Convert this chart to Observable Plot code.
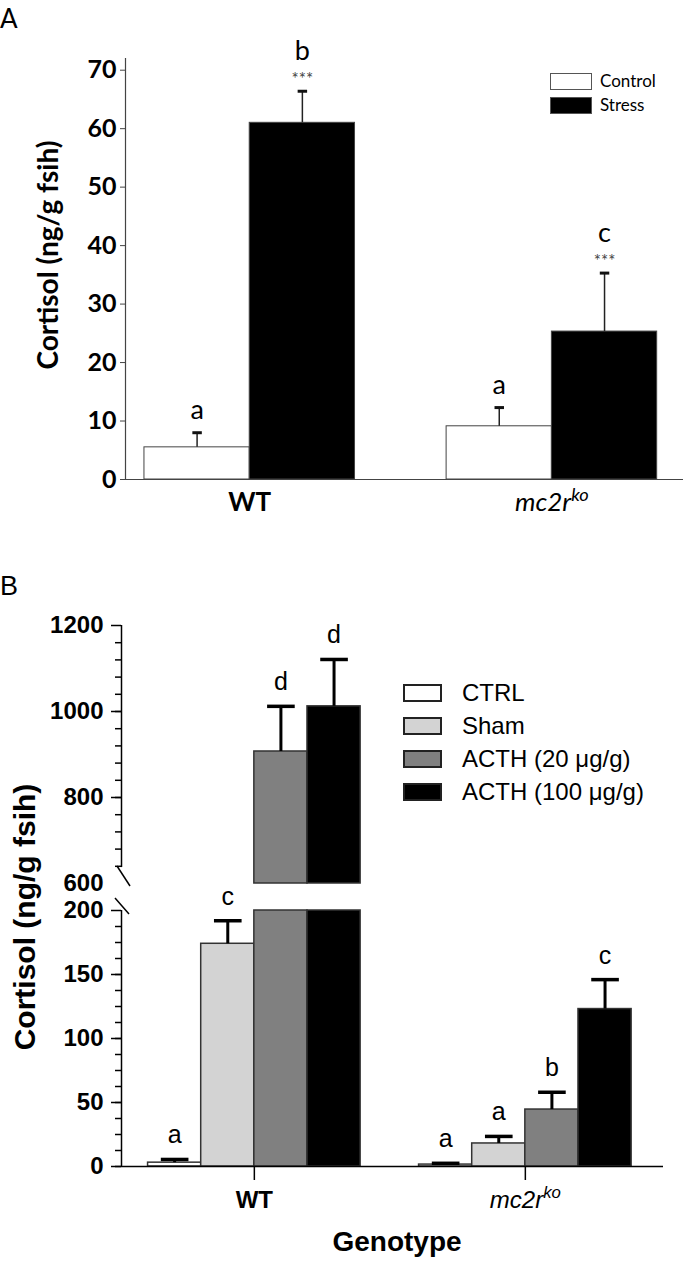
<!DOCTYPE html>
<html><head><meta charset="utf-8">
<script src="https://cdn.jsdelivr.net/npm/d3@7"></script>
<script src="https://cdn.jsdelivr.net/npm/@observablehq/plot@0.6"></script>
<style>
body{margin:0;background:#fff}
#root{position:relative;width:683px;height:1267px;overflow:hidden;background:#fff}
#root svg{position:absolute;left:0}
.abs{position:absolute;white-space:nowrap}
.rot{position:absolute;text-align:center;transform:rotate(-90deg);white-space:nowrap}
.sw{position:absolute;box-sizing:border-box}
</style>
</head><body><div id="root"></div>
<script>
// ---------- Data ----------
const genotypes = ["WT", "mc2rko"];
const treatmentsA = ["Control", "Stress"];
const meanA = [[5.5, 61.0], [9.1, 25.3]];
const errA = [[8.0, 66.4], [12.3, 35.3]];
const lettersA = [["a", "b"], ["a", "c"]];
const starsA = [["", "***"], ["", "***"]];
const yTicksA = [0, 10, 20, 30, 40, 50, 60, 70];

const treatmentsB = ["CTRL", "Sham", "ACTH (20 \u03bcg/g)", "ACTH (100 \u03bcg/g)"];
const meanB = [[3, 174, 907, 1012], [1.5, 18, 44.5, 123]];
const errB = [[5.5, 192, 1012, 1121], [2.5, 23.5, 58, 146]];
const lettersB = [["a", "c", "d", "d"], ["a", "a", "b", "c"]];
const yTicksBLow = [0, 50, 100, 150, 200];
const yTicksBHigh = [600, 800, 1000, 1200];

// ---------- Layout ----------
const fillA = ["white", "black"];
const fillB = ["white", "#d3d3d3", "#808080", "black"];
const startA = [0.18, 3.05], startB = [0.5, 5.6];
const capA = 0.045, capB = 0.26;

const rowsA = [];
genotypes.forEach((g, gi) => treatmentsA.forEach((t, ti) => rowsA.push({
  g, t, ti, x1: startA[gi] + ti, x2: startA[gi] + ti + 1, xc: startA[gi] + ti + 0.5,
  mean: meanA[gi][ti], err: errA[gi][ti], letter: lettersA[gi][ti], star: starsA[gi][ti]})));
const rowsB = [];
genotypes.forEach((g, gi) => treatmentsB.forEach((t, ti) => rowsB.push({
  g, t, ti, x1: startB[gi] + ti, x2: startB[gi] + ti + 1, xc: startB[gi] + ti + 0.5,
  mean: meanB[gi][ti], err: errB[gi][ti], letter: lettersB[gi][ti]})));
const centersA = startA.map(s => s + 1);
const centersB = startB.map(s => s + 2);

const root = document.getElementById("root");
const AR = "Liberation Sans, Arial, sans-serif";
const fmt = d3.format("d");

// ---------- Panel A ----------
const plotA = Plot.plot({
  width: 683, height: 530, marginLeft: 125, marginRight: 0, marginTop: 58, marginBottom: 51,
  style: {background: "transparent", overflow: "visible"},
  x: {domain: [0, 5.3], axis: null}, y: {domain: [0, 72], axis: null},
  marks: [
    Plot.rectY(rowsA, {x1: "x1", x2: "x2", y1: 0, y2: "mean", fill: d => fillA[d.ti], stroke: "#444", strokeWidth: 1}),
    Plot.ruleX(rowsA, {x: "xc", y1: "mean", y2: "err", stroke: "#222", strokeWidth: 1.5}),
    Plot.link(rowsA, {x1: d => d.xc - capA, x2: d => d.xc + capA, y1: "err", y2: "err", stroke: "#111", strokeWidth: 3}),
    Plot.text(rowsA.filter(d => !d.star), {x: "xc", y: "err", text: "letter", dy: -22, fontSize: 27, fontFamily: "Lato"}),
    Plot.text(rowsA.filter(d => d.star), {x: "xc", y: "err", text: "letter", dy: -40, fontSize: 27, fontFamily: "Lato"}),
    Plot.text(rowsA, {x: "xc", y: "err", text: "star", dy: -12, fontSize: 17, fill: "#444", fontFamily: "Lato"}),
    Plot.ruleY([0], {stroke: "#444", strokeWidth: 1.2}),
    Plot.ruleX([0], {y1: 0, y2: 72, stroke: "#444", strokeWidth: 1.2}),
    Plot.axisY({ticks: yTicksA, tickSize: 5, tickPadding: 4, fontSize: 25, fontWeight: "bold", fontFamily: "Lato", label: null, stroke: "#444"}),
    Plot.axisX({ticks: centersA, tickSize: 0, tickPadding: 13, fontSize: 26, fontFamily: "Lato", label: null,
      tickFormat: d => genotypes[centersA.indexOf(d)]})
  ]
});
plotA.style.top = "0px";
root.appendChild(plotA);

// ---------- Panel B (upper, broken axis) ----------
const plotBH = Plot.plot({
  width: 683, height: 290, marginLeft: 121, marginRight: 20, marginTop: 25, marginBottom: 7,
  style: {background: "transparent", overflow: "visible"},
  x: {domain: [0, 10.2], axis: null}, y: {domain: [600, 1200], axis: null},
  marks: [
    Plot.rectY(rowsB.filter(d => d.mean > 600), {x1: "x1", x2: "x2", y1: 600, y2: "mean", fill: d => fillB[d.ti], stroke: "#333", strokeWidth: 1.5}),
    Plot.ruleX(rowsB.filter(d => d.err > 600), {x: "xc", y1: "mean", y2: "err", strokeWidth: 3}),
    Plot.link(rowsB.filter(d => d.err > 600), {x1: d => d.xc - capB, x2: d => d.xc + capB, y1: "err", y2: "err", strokeWidth: 3.5}),
    Plot.text(rowsB.filter(d => d.err > 600), {x: "xc", y: "err", text: "letter", dy: -24, fontSize: 25, fontFamily: AR}),
    Plot.ruleX([0], {y1: 637, y2: 1200, strokeWidth: 1.5}),
    Plot.axisY({ticks: d3.range(640, 1200, 40), tickSize: 6, tickFormat: () => "", label: null, strokeWidth: 1.5}),
    Plot.axisY({ticks: yTicksBHigh.filter(v => v > 600), tickSize: 10, tickPadding: 8, tickFormat: fmt, fontSize: 24, fontWeight: "bold", fontFamily: AR, label: null, strokeWidth: 1.5}),
    Plot.axisY({ticks: [600], tickSize: 0, tickPadding: 18, tickFormat: fmt, fontSize: 24, fontWeight: "bold", fontFamily: AR, label: null})
  ]
});
plotBH.style.top = "600px";
root.appendChild(plotBH);

// ---------- Panel B (lower) ----------
const plotBL = Plot.plot({
  width: 683, height: 387, marginLeft: 121, marginRight: 20, marginTop: 30, marginBottom: 101,
  style: {background: "transparent", overflow: "visible"},
  x: {domain: [0, 10.2], axis: null}, y: {domain: [0, 200], axis: null},
  marks: [
    Plot.rectY(rowsB, {x1: "x1", x2: "x2", y1: 0, y2: d => Math.min(d.mean, 200), fill: d => fillB[d.ti], stroke: "#333", strokeWidth: 1.5}),
    Plot.ruleX(rowsB.filter(d => d.err <= 200), {x: "xc", y1: "mean", y2: "err", strokeWidth: 3}),
    Plot.link(rowsB.filter(d => d.err <= 200), {x1: d => d.xc - capB, x2: d => d.xc + capB, y1: "err", y2: "err", strokeWidth: 3.5}),
    Plot.text(rowsB.filter(d => d.err <= 200), {x: "xc", y: "err", text: "letter", dy: -24, fontSize: 25, fontFamily: AR}),
    Plot.ruleY([0], {strokeWidth: 1.5}),
    Plot.ruleX([0], {y1: 0, y2: 200, strokeWidth: 1.5}),
    Plot.axisY({ticks: d3.range(0, 200, 12.5), tickSize: 6, tickFormat: () => "", label: null, strokeWidth: 1.5}),
    Plot.axisY({ticks: yTicksBLow, tickSize: 10, tickPadding: 8, tickFormat: fmt, fontSize: 24, fontWeight: "bold", fontFamily: AR, label: null, strokeWidth: 1.5}),
    Plot.axisX({ticks: centersB, tickSize: 14, tickPadding: 10, fontSize: 24, fontFamily: AR, label: null, strokeWidth: 1.5,
      tickFormat: d => genotypes[centersB.indexOf(d)]})
  ]
});
plotBL.style.top = "880px";
root.appendChild(plotBL);

// genotype labels: WT bold, mc2r^ko italic with superscript
for (const svg of [plotA, plotBL]) {
  svg.querySelectorAll("text").forEach(t => {
    if (t.textContent === "WT") t.setAttribute("font-weight", "bold");
    if (t.textContent === "mc2rko") {
      t.setAttribute("font-style", "italic");
      t.setAttribute("font-weight", "normal");
      t.innerHTML = '<tspan>mc2r</tspan><tspan font-size="70%" dy="-0.55em">ko</tspan>';
    }
  });
}

// ---------- Decorations: panel labels, axis titles, legends, breaks ----------
function add(html) { root.insertAdjacentHTML("beforeend", html); }
add(`<div class="abs" style="left:0;top:2px;font:26px Lato">A</div>`);
add(`<div class="abs" style="left:0;top:571px;font:27px 'Liberation Sans'">B</div>`);
add(`<div class="rot" style="left:-103px;top:238px;width:300px;line-height:34px;font:bold 28px Lato">Cortisol (ng/g fsih)</div>`);
add(`<div class="rot" style="left:-135px;top:900px;width:320px;line-height:36px;font:bold 30px 'Liberation Sans'">Cortisol (ng/g fsih)</div>`);
add(`<div class="abs" style="left:297px;top:1226px;width:200px;text-align:center;font:bold 28px 'Liberation Sans'">Genotype</div>`);

treatmentsA.forEach((t, i) => {
  add(`<div class="sw" style="left:550px;top:${73 + i * 24}px;width:42px;height:17px;background:${fillA[i]};border:1.5px solid #555"></div>`);
  add(`<div class="abs" style="left:600px;top:${70 + i * 24}px;font:17px Lato;line-height:22px">${t}</div>`);
});
treatmentsB.forEach((t, i) => {
  add(`<div class="sw" style="left:403px;top:${684 + i * 33}px;width:39px;height:18px;background:${fillB[i]};border:2px solid #222"></div>`);
  add(`<div class="abs" style="left:462px;top:${678 + i * 33}px;font:24px 'Liberation Sans';line-height:30px">${t}</div>`);
});
add(`<svg width="683" height="1267" style="top:0;pointer-events:none">
  <line x1="117" y1="866" x2="130" y2="886" stroke="#000" stroke-width="1.5"/>
  <line x1="115" y1="898" x2="129" y2="914" stroke="#000" stroke-width="1.5"/>
</svg>`);
</script>
</body></html>
